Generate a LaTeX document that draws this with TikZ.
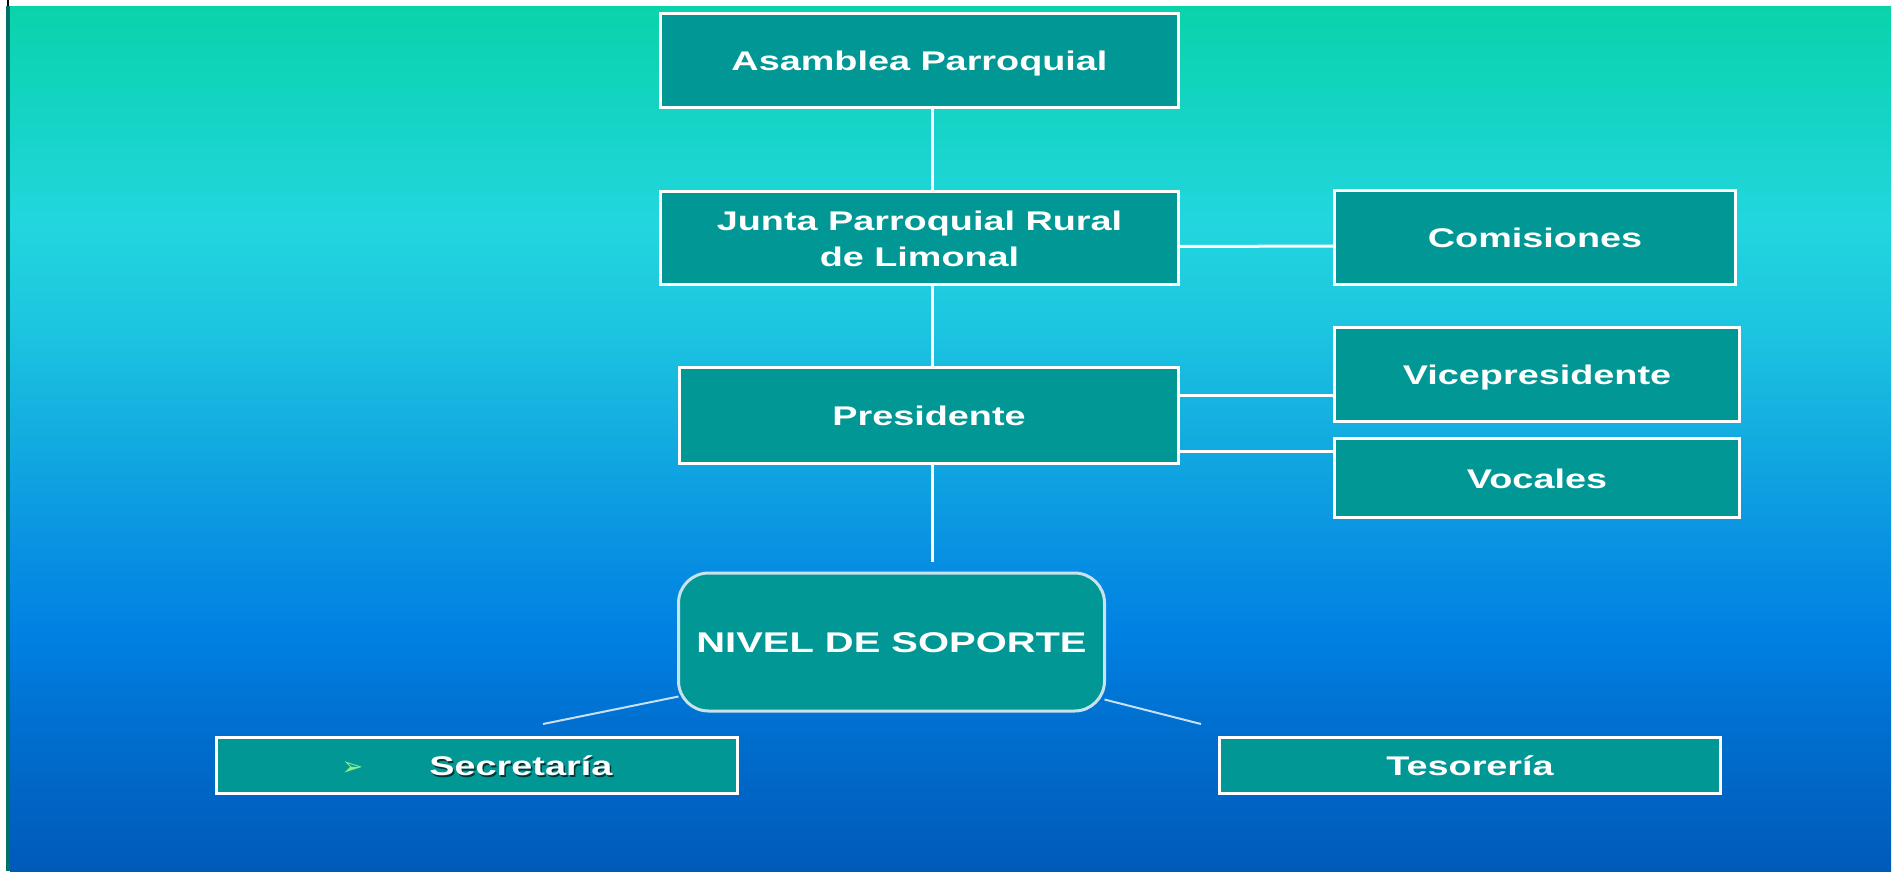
\documentclass[tikz,border=0pt]{standalone}
\usepackage{fontspec}
\setmainfont[FakeStretch=1.4]{Liberation Sans}
\newfontfamily\dingfont{DejaVu Sans}
\definecolor{boxfill}{RGB}{0,151,149}
\definecolor{softline}{RGB}{200,224,246}
\definecolor{nivelrim}{RGB}{200,226,238}
\definecolor{edgeteal}{RGB}{0,112,104}
\definecolor{shadowteal}{RGB}{0,56,56}
\definecolor{arrowgreen}{RGB}{140,236,140}
\definecolor{bgA}{RGB}{10,211,170}
\definecolor{bgB}{RGB}{20,212,196}
\definecolor{bgC}{RGB}{34,214,222}
\definecolor{bgD}{RGB}{28,196,224}
\definecolor{bgE}{RGB}{18,170,224}
\definecolor{bgF}{RGB}{8,144,226}
\definecolor{bgG}{RGB}{0,128,226}
\definecolor{bgH}{RGB}{0,112,208}
\definecolor{bgI}{RGB}{0,90,186}
\pgfdeclareverticalshading{slidebg}{100bp}{color(0bp)=(bgI); color(25bp)=(bgI);
  color(33.6bp)=(bgH); color(38.4bp)=(bgG); color(43.3bp)=(bgF); color(49.7bp)=(bgE);
  color(56.1bp)=(bgD); color(62.5bp)=(bgC); color(68.9bp)=(bgB); color(75bp)=(bgA);
  color(100bp)=(bgA)}
\newcommand\shadowed[1]{\leavevmode\rlap{\hspace{1.5pt}\raisebox{-1.5pt}{\color{shadowteal}#1}}#1}
\tikzset{
  orgbox/.style={draw=white, line width=3pt, fill=boxfill, text=white,
    font=\bfseries\fontsize{27}{36}\selectfont, align=center,
    inner sep=0pt, outer sep=0pt, text height=20pt, text depth=0pt},
  nivelbox/.style={orgbox, draw=nivelrim, rounded corners=30pt,
    font=\bfseries\fontsize{28.5}{36}\selectfont},
  link/.style={draw=white, line width=3pt},
  thinlink/.style={draw=softline, line width=2pt},
}
\begin{document}
\begin{tikzpicture}[x=1pt,y=-1pt]
      \useasboundingbox (0,0) rectangle (1902,871);
      \fill[white] (0,0) rectangle (1902,871);
      \shade[shading=slidebg] (10,6) rectangle (1891,871);
      \fill[edgeteal] (6,6) rectangle (10,871);
      \fill[black] (6.5,0) rectangle (8.5,6);
      \draw
        (919.5,60.5) node[orgbox, minimum width=518pt, minimum height=94pt] (asam){Asamblea Parroquial}
        (919.5,238) node[orgbox, minimum width=518pt, minimum height=93pt, text height=56pt] (junta){Junta Parroquial Rural\\de Limonal}
        (1535,237.5) node[orgbox, minimum width=401pt, minimum height=94pt] (comis){Comisiones}
        (929,415.5) node[orgbox, minimum width=499pt, minimum height=96pt] (pres){Presidente}
        (1537,374.5) node[orgbox, minimum width=405pt, minimum height=94pt] (vice){Vicepresidente}
        (1537,478) node[orgbox, minimum width=405pt, minimum height=79pt] (vocal){Vocales}
        (891.5,642) node[nivelbox, minimum width=426pt, minimum height=138pt] (nivel){NIVEL DE SOPORTE}
        (477,765.5) node[orgbox, minimum width=521pt, minimum height=56pt] (secre){{\dingfont\fontsize{26}{26}\selectfont\color{arrowgreen}➢}\hspace{66pt}\shadowed{Secretaría}}
        (1470,765.5) node[orgbox, minimum width=501pt, minimum height=56pt] (teso){Tesorería};
      \coordinate (trunk) at (932,562);
      \coordinate (secend) at (543,724);
      \coordinate (tesend) at (1201,724);
      \begin{scope}[link]
        \draw (asam.south -| trunk) to (junta.north -| trunk);
        \draw (junta.south -| trunk) to (pres.north -| trunk);
        \draw (pres.south -| trunk) to (trunk);
        \draw ([yshift=-8.5pt]junta.east) to ([yshift=-8.5pt]comis.west);
        \draw ([yshift=-20.5pt]vice.west -| pres.east) to ([yshift=-20.5pt]vice.west);
        \draw ([yshift=27pt]vocal.west -| pres.east) to ([yshift=27pt]vocal.west);
      \end{scope}
      \begin{scope}[thinlink]
        \draw ([yshift=-54.5pt]nivel.west) to (secend);
        \draw ([yshift=-57.5pt]nivel.east) to (tesend);
      \end{scope}
    \end{tikzpicture}
\end{document}
